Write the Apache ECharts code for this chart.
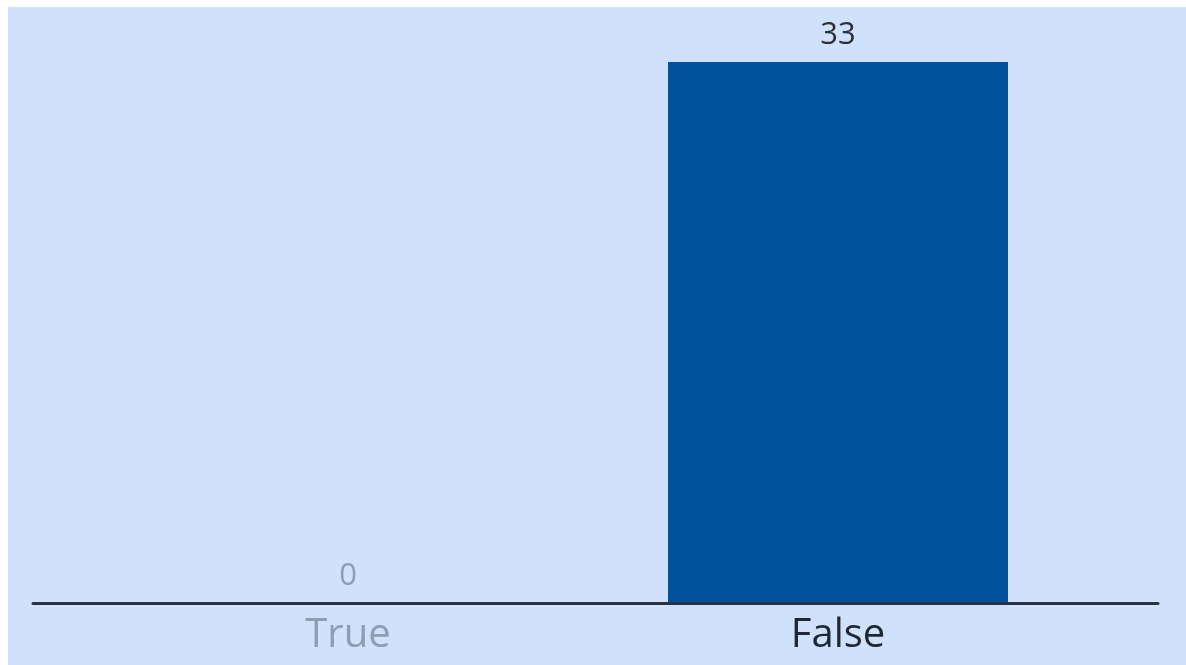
<!DOCTYPE html>
<html>
<head>
<meta charset="utf-8">
<script src="https://cdn.jsdelivr.net/npm/echarts@6/dist/echarts.min.js"></script>
<style>
  html, body { margin: 0; padding: 0; background: #ffffff; overflow: hidden; }
  #chart { position: absolute; left: 8px; top: 7px; width: 1178px; height: 658px; background: #d0e1fb; }
</style>
</head>
<body>
<div id="chart"></div>
<script>
// Counts per answer
const categories = ['True', 'False'];
const counts = [0, 33];

// Text colours per category: an answer nobody picked is muted
const categoryColors = ['#8f9cb1', '#1f2733'];
const valueColors = ['#8f9cb1', '#2b2f38'];

const chart = echarts.init(document.getElementById('chart'));
const font = '"Open Sans", "DejaVu Sans", sans-serif';

chart.setOption({
  backgroundColor: '#d0e1fb',
  animation: false,
  grid: [
    { left: 95, right: 103, top: 55, bottom: 62 },   // bars
    { left: 25, right: 28, top: 55, bottom: 62 }     // full-width baseline
  ],
  xAxis: [
    {
      gridIndex: 0,
      type: 'category',
      data: categories,
      axisLine: { show: false },
      axisTick: { show: false },
      axisLabel: {
        margin: 13,
        fontFamily: font,
        fontSize: 40,
        color: function (v, i) { return categoryColors[i]; }
      }
    },
    {
      gridIndex: 1,
      type: 'category',
      data: [''],
      z: 5,
      axisLine: { show: true, lineStyle: { color: '#2a3341', width: 3 } },
      axisTick: { show: false },
      axisLabel: { show: false }
    }
  ],
  yAxis: [
    { gridIndex: 0, type: 'value', min: 0, max: 33, show: false },
    { gridIndex: 1, type: 'value', min: 0, max: 1, show: false }
  ],
  series: [{
    type: 'bar',
    xAxisIndex: 0,
    yAxisIndex: 0,
    barWidth: 340,
    data: counts.map(function (v, i) {
      return { value: v, label: { color: valueColors[i] } };
    }),
    itemStyle: { color: '#00539b' },
    label: {
      show: true,
      position: 'top',
      distance: 11,
      fontFamily: font,
      fontSize: 31
    }
  }]
});
</script>
</body>
</html>
